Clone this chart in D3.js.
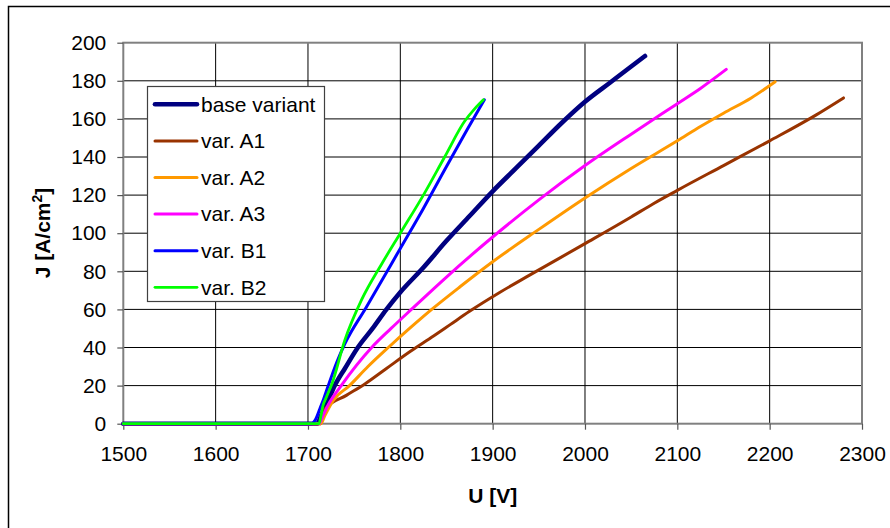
<!DOCTYPE html>
<html>
<head>
<meta charset="utf-8">
<script src="https://cdn.jsdelivr.net/npm/d3@7"></script>
<style>
  body { margin: 0; background: #fff; }
  text { font-family: "Liberation Sans", Arial, sans-serif; }
</style>
</head>
<body>
<script>
// values, U in V, J in A/cm2
var seriesNames = ["base variant", "var. A1", "var. A2", "var. A3", "var. B1", "var. B2"];

var baseU = [1500, 1600, 1700, 1710, 1714, 1720, 1729, 1740, 1754, 1770, 1785, 1800, 1825, 1850, 1875, 1900, 1925, 1950, 1975, 2000, 2027, 2050, 2065];
var baseJ = [0, 0, 0, 0, 4, 10, 20, 29, 40, 50, 60, 69, 82, 96, 109, 122, 134, 146, 158, 169, 179, 187.5, 193];

var a1U = [1500, 1600, 1700, 1714, 1716, 1719, 1742, 1762, 1785, 1811, 1836, 1854, 1875, 1908, 1940, 2000, 2050, 2074, 2100, 2150, 2200, 2250, 2280];
var a1J = [0, 0, 0, 0, 5, 8, 15, 21, 29, 38, 46, 52, 59, 69, 78, 94.5, 108.5, 115.5, 122.5, 135.5, 148.5, 162, 171];

var a2U = [1500, 1600, 1700, 1714, 1718, 1727, 1745, 1765, 1787, 1810, 1834, 1865, 1900, 1950, 2000, 2050, 2100, 2125, 2150, 2180, 2206];
var a2J = [0, 0, 0, 0, 4, 12, 20, 30, 40, 50, 60, 72, 85, 102, 118.5, 134, 148.5, 156, 163, 171, 179.5];

var a3U = [1500, 1600, 1700, 1712, 1716, 1722, 1736, 1769, 1790, 1812, 1850, 1900, 1950, 2000, 2050, 2100, 2125, 2153];
var a3J = [0, 0, 0, 0, 4, 10, 20, 40, 50, 60, 77, 98, 117.5, 135.5, 152, 168, 176, 186];

var b1U = [1500, 1600, 1700, 1704, 1708, 1713, 1717, 1722, 1731, 1740, 1763, 1800, 1825, 1850, 1872, 1891];
var b1J = [0, 0, 0, 0, 2, 8, 13, 20, 32, 42, 61, 92, 113, 135, 154, 170];

var b2U = [1500, 1600, 1700, 1712, 1714, 1716, 1720, 1726, 1740, 1758, 1780, 1800, 1825, 1848, 1870, 1880, 1890];
var b2J = [0, 0, 0, 0, 4, 9, 14, 21, 44, 65, 84, 100, 120, 140, 159, 165, 170];

var xTicks = [1500, 1600, 1700, 1800, 1900, 2000, 2100, 2200, 2300];
var yTicks = [0, 20, 40, 60, 80, 100, 120, 140, 160, 180, 200];

var colors = ["#000080", "#993300", "#FF9900", "#FF00FF", "#0000FF", "#00FF00"];
var widths = [4.6, 3, 3, 3, 3, 2.8];

var allU = [baseU, a1U, a2U, a3U, b1U, b2U];
var allJ = [baseJ, a1J, a2J, a3J, b1J, b2J];
var series = seriesNames.map(function(n, i) {
  return { name: n, pts: allU[i].map(function(u, k) { return [u, allJ[i][k]]; }) };
});

var width = 890, height = 528;
var svg = d3.select("body").append("svg")
  .attr("width", width)
  .attr("height", height);

// outer frame (runs off the right and bottom edge)
svg.append("rect")
  .attr("x", 8.5).attr("y", 6.5)
  .attr("width", 900).attr("height", 540)
  .attr("fill", "none").attr("stroke", "#000").attr("stroke-width", 1.5);

var x = d3.scaleLinear().domain([1500, 2300]).range([123.3, 862]);
var y = d3.scaleLinear().domain([0, 200]).range([423.7, 42.7]);

// grid
svg.append("g").selectAll("line")
  .data(xTicks.slice(1, -1))
  .enter().append("line")
    .attr("x1", function(d) { return x(d); })
    .attr("x2", function(d) { return x(d); })
    .attr("y1", y(0)).attr("y2", y(200))
    .attr("stroke", "#000").attr("stroke-width", 1);
svg.append("g").selectAll("line")
  .data(yTicks.slice(1, -1))
  .enter().append("line")
    .attr("x1", x(1500)).attr("x2", x(2300))
    .attr("y1", function(d) { return y(d); })
    .attr("y2", function(d) { return y(d); })
    .attr("stroke", "#000").attr("stroke-width", 1);

// plot border
svg.append("rect")
  .attr("x", x(1500)).attr("y", y(200))
  .attr("width", x(2300) - x(1500)).attr("height", y(0) - y(200))
  .attr("fill", "none").attr("stroke", "#808080").attr("stroke-width", 2);

// axes
var xAxis = svg.append("g")
  .attr("transform", "translate(0," + y(0) + ")")
  .call(d3.axisBottom(x).tickValues(xTicks).tickFormat(d3.format("d"))
    .tickSize(6).tickPadding(16).tickSizeOuter(0));
var yAxis = svg.append("g")
  .attr("transform", "translate(" + x(1500) + ",0)")
  .call(d3.axisLeft(y).tickValues(yTicks).tickFormat(d3.format("d"))
    .tickSize(6).tickPadding(11).tickSizeOuter(0));
[xAxis, yAxis].forEach(function(a) {
  a.select(".domain").remove();
  a.selectAll("line").attr("stroke", "#555").attr("stroke-width", 1.2);
  a.selectAll("text")
    .attr("fill", "#000")
    .style("font-family", "'Liberation Sans', Arial, sans-serif")
    .style("font-size", "21px");
});

// curves
var line = d3.line()
  .curve(d3.curveMonotoneX)
  .x(function(d) { return x(d[0]); })
  .y(function(d) { return y(d[1]); });

svg.append("g").selectAll("path")
  .data(series)
  .enter().append("path")
    .attr("d", function(d) { return line(d.pts); })
    .attr("fill", "none")
    .attr("stroke", function(d, i) { return colors[i]; })
    .attr("stroke-width", function(d, i) { return widths[i]; })
    .attr("stroke-linejoin", "round")
    .attr("stroke-linecap", "round");

// axis titles
svg.append("text")
  .attr("x", x(1900)).attr("y", 503)
  .attr("text-anchor", "middle")
  .style("font-size", "21px").style("font-weight", "bold")
  .text("U [V]");

var yt = svg.append("text")
  .attr("transform", "translate(50,233) rotate(-90)")
  .attr("text-anchor", "middle")
  .style("font-size", "21px").style("font-weight", "bold");
yt.append("tspan").text("J [A/cm");
yt.append("tspan").attr("dy", -8).style("font-size", "14px").text("2");
yt.append("tspan").attr("dy", 8).text("]");

// legend
var leg = svg.append("g");
leg.append("rect")
  .attr("x", 147.5).attr("y", 86.5)
  .attr("width", 177).attr("height", 215)
  .attr("fill", "#fff").attr("stroke", "#404040").attr("stroke-width", 1.2);
var rows = leg.selectAll("g.row")
  .data(series)
  .enter().append("g")
    .attr("class", "row")
    .attr("transform", function(d, i) { return "translate(0," + (104.3 + i * 36.6) + ")"; });
rows.append("line")
  .attr("x1", 155).attr("x2", 197)
  .attr("stroke", function(d, i) { return colors[i]; })
  .attr("stroke-width", function(d, i) { return widths[i]; })
  .attr("stroke-linecap", "round");
rows.append("text")
  .attr("x", 201).attr("dy", "0.35em")
  .style("font-size", "21px")
  .text(function(d) { return d.name; });
</script>
</body>
</html>
